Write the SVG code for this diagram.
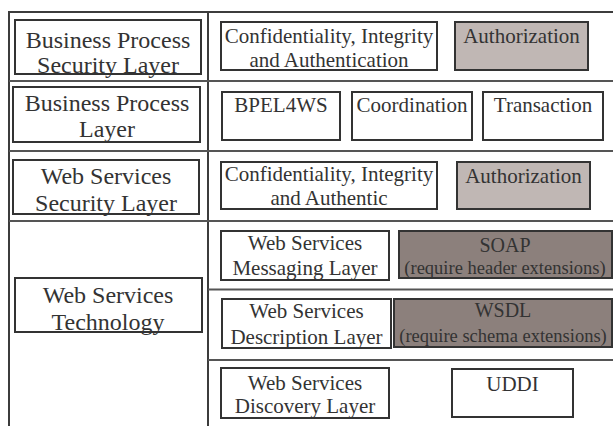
<svg xmlns="http://www.w3.org/2000/svg" width="613" height="426" viewBox="0 0 613 426">
  <style>
    .frame { stroke: #3c3c3c; stroke-width: 2; fill: none; }
    .sep { stroke: #555; stroke-width: 2; fill: none; }
    .box { fill: #fff; stroke: #333; stroke-width: 2; }
    .light { fill: #c0b7b4; stroke: #333; stroke-width: 2; }
    .dark { fill: #8c807c; stroke: #333; stroke-width: 2; }
    text { font-family: "Liberation Serif", "Times New Roman", serif; fill: #333; text-anchor: middle; }
    .big { font-size: 24px; }
    .mid { font-size: 21px; }
    .ttl { font-size: 20px; }
    .sub { font-size: 18.5px; }
  </style>
  <rect width="613" height="426" fill="#fff"/>

  <!-- table frame and row dividers -->
  <g id="frame">
    <line class="frame" x1="9" y1="12" x2="613" y2="12"/>
    <line class="frame" x1="9" y1="11" x2="9" y2="426"/>
    <line class="frame" x1="208" y1="12" x2="208" y2="426"/>
    <line class="sep" x1="9" y1="81" x2="613" y2="81"/>
    <line class="sep" x1="9" y1="151" x2="613" y2="151"/>
    <line class="sep" x1="9" y1="221" x2="613" y2="221"/>
    <line class="sep" x1="208" y1="289.5" x2="613" y2="289.5"/>
    <line class="sep" x1="208" y1="360" x2="613" y2="360"/>
  </g>

  <!-- left column: layer names -->
  <g id="bp-security-layer">
    <rect class="box" x="15" y="20" width="186" height="54"/>
    <text class="big" x="108" y="48">Business Process</text>
    <text class="big" x="108" y="72.5">Security Layer</text>
  </g>
  <g id="bp-layer">
    <rect class="box" x="13" y="87" width="187" height="55"/>
    <text class="big" x="107" y="111">Business Process</text>
    <text class="big" x="107" y="137">Layer</text>
  </g>
  <g id="ws-security-layer">
    <rect class="box" x="13" y="160" width="186" height="54"/>
    <text class="big" x="106" y="183.5">Web Services</text>
    <text class="big" x="106" y="210.5">Security Layer</text>
  </g>
  <g id="ws-technology">
    <rect class="box" x="15" y="278" width="187" height="54"/>
    <text class="big" x="108" y="303">Web Services</text>
    <text class="big" x="108" y="330">Technology</text>
  </g>

  <!-- right column: business process security -->
  <g id="bp-cia">
    <rect class="box" x="221" y="22" width="216" height="48"/>
    <text class="mid" x="329" y="43">Confidentiality, Integrity</text>
    <text class="mid" x="329" y="66.5">and Authentication</text>
  </g>
  <g id="bp-authorization">
    <rect class="light" x="455" y="22" width="133" height="48"/>
    <text class="mid" x="521.5" y="43">Authorization</text>
  </g>

  <!-- business process components -->
  <g id="bpel4ws">
    <rect class="box" x="222" y="92" width="118" height="48"/>
    <text class="mid" x="281" y="112">BPEL4WS</text>
  </g>
  <g id="coordination">
    <rect class="box" x="352" y="92" width="120" height="48"/>
    <text class="mid" x="412" y="112">Coordination</text>
  </g>
  <g id="transaction">
    <rect class="box" x="483" y="92" width="120" height="48"/>
    <text class="mid" x="543" y="112">Transaction</text>
  </g>

  <!-- web services security -->
  <g id="ws-cia">
    <rect class="box" x="221" y="162" width="216" height="47"/>
    <text class="mid" x="329" y="180.5">Confidentiality, Integrity</text>
    <text class="mid" x="329" y="205">and Authentic</text>
  </g>
  <g id="ws-authorization">
    <rect class="light" x="457" y="162" width="133" height="47"/>
    <text class="mid" x="523.5" y="183">Authorization</text>
  </g>

  <!-- web services technology stack -->
  <g id="messaging-layer">
    <rect class="box" x="221" y="231" width="168" height="49"/>
    <text class="mid" x="305" y="250">Web Services</text>
    <text class="mid" x="305" y="275">Messaging Layer</text>
  </g>
  <g id="soap">
    <rect class="dark" x="399" y="231" width="213" height="47"/>
    <text class="ttl" x="505" y="251.5">SOAP</text>
    <text class="sub" x="505" y="273.5">(require header extensions)</text>
  </g>
  <g id="description-layer">
    <rect class="box" x="222" y="299" width="169" height="49"/>
    <text class="mid" x="306.5" y="317.5">Web Services</text>
    <text class="mid" x="306.5" y="343.5">Description Layer</text>
  </g>
  <g id="wsdl">
    <rect class="dark" x="394" y="299" width="218" height="48"/>
    <text class="ttl" x="503" y="317">WSDL</text>
    <text class="sub" x="503" y="342">(require schema extensions)</text>
  </g>
  <g id="discovery-layer">
    <rect class="box" x="221" y="368" width="168" height="50"/>
    <text class="mid" x="305" y="389.5">Web Services</text>
    <text class="mid" x="305" y="413">Discovery Layer</text>
  </g>
  <g id="uddi">
    <rect class="box" x="452" y="369" width="121" height="48"/>
    <text class="mid" x="512.5" y="391">UDDI</text>
  </g>
</svg>
